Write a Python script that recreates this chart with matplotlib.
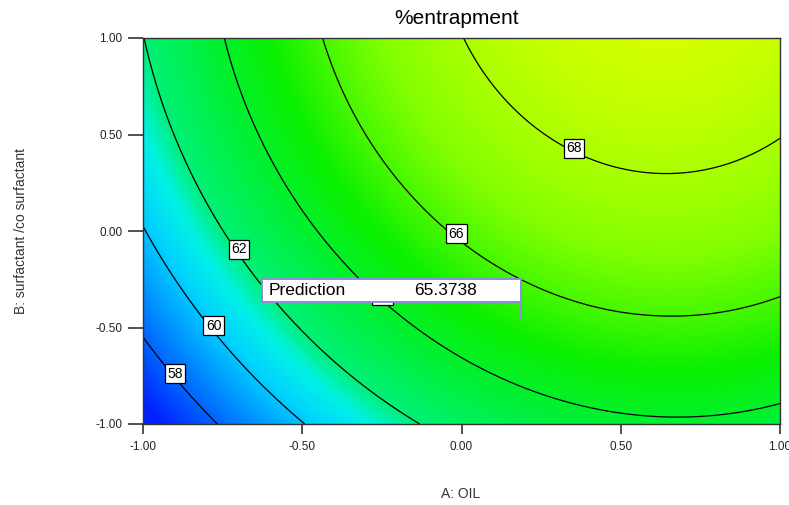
import numpy as np
import matplotlib
matplotlib.use("Agg")
import matplotlib.pyplot as plt
from matplotlib.colors import LinearSegmentedColormap, Normalize
from matplotlib.patches import Rectangle

plt.rcParams['font.family'] = ['Liberation Sans', 'DejaVu Sans']

# ---- data (coded factor units) ----
title = "%entrapment"
x_label = "A: OIL"
y_label = "B: surfactant /co surfactant"
ticks = [-1.0, -0.5, 0.0, 0.5, 1.0]
levels = [58, 60, 62, 64, 66, 68]

# points (A, B) -> level
pts_58 = [(-1.0, -0.57), (-0.90, -0.74), (-0.77, -1.0)]
pts_60 = [(-1.0, 0.0), (-0.78, -0.49), (-0.50, -1.0)]
pts_62 = [(-0.99, 1.0), (-0.908, 0.49), (-0.735, 0.0), (-0.70, -0.09), (-0.40, -0.66), (-0.13, -1.0)]
pts_64 = [(-0.745, 1.0), (-0.641, 0.49), (-0.465, 0.0), (-0.41, -0.10), (-0.286, -0.363),
          (0.122, -0.751), (0.65, -0.959), (1.0, -0.891)]
pts_66 = [(-0.44, 1.0), (-0.296, 0.49), (-0.129, 0.155), (0.0, 0.0), (0.185, -0.26),
          (0.634, -0.446), (1.0, -0.347)]
pts_68 = [(0.0, 1.0), (0.352, 0.43), (0.647, 0.285), (1.0, 0.487)]
prediction_point = (0.185, -0.456)
prediction_value = 65.3738

# contour label positions (A, B)
label_pos = {58: (-0.90, -0.74), 60: (-0.778, -0.492), 62: (-0.699, -0.095),
             64: (-0.248, -0.332), 66: (-0.016, -0.014), 68: (0.353, 0.428)}

# colour scale anchors (response value -> colour)
cmap_vals = [56.5, 58.5, 60.2, 61.2, 62.0, 63.5, 65.0, 67.0, 69.5, 70.5]
cmap_cols = [(0, 35, 255), (0, 125, 255), (0, 210, 255), (0, 242, 228), (0, 240, 118),
             (0, 240, 60), (10, 240, 0), (130, 255, 0), (228, 255, 0), (245, 255, 0)]

# ---- surface fitted through the traced contour points ----
A_list, B_list, Z_list = [], [], []
for lev, pts in zip(levels, [pts_58, pts_60, pts_62, pts_64, pts_66, pts_68]):
    for a, b in pts:
        A_list.append(a); B_list.append(b); Z_list.append(lev)
A_list.append(prediction_point[0]); B_list.append(prediction_point[1]); Z_list.append(prediction_value)
A_arr, B_arr, Z_arr = map(np.array, (A_list, B_list, Z_list))

def design(a, b):
    return np.stack([np.ones_like(a), a, b, a * a, a * b, b * b,
                     a ** 3, a * a * b, a * b * b, b ** 3], axis=-1)

coef, *_ = np.linalg.lstsq(design(A_arr, B_arr), Z_arr, rcond=None)

g = np.linspace(-1, 1, 301)
GA, GB = np.meshgrid(g, g)
GZ = design(GA, GB) @ coef

vmin, vmax = cmap_vals[0], cmap_vals[-1]
pos = [(v - vmin) / (vmax - vmin) for v in cmap_vals]
cmap = LinearSegmentedColormap.from_list(
    "de", list(zip(pos, [tuple(c / 255 for c in col) for col in cmap_cols])))

fig = plt.figure(figsize=(7.89, 5.05), dpi=100)
ax = fig.add_axes([143 / 789, 1 - 424 / 505, 637 / 789, 386 / 505])

ax.imshow(GZ, extent=(-1, 1, -1, 1), origin='lower', cmap=cmap,
          norm=Normalize(vmin, vmax), aspect='auto', interpolation='bilinear')
ax.contour(GA, GB, GZ, levels=levels, colors='black', linewidths=0.9)

for lev in levels:
    a, b = label_pos[lev]
    ax.text(a, b, str(lev), fontsize=10, ha='center', va='center', zorder=5,
            bbox=dict(boxstyle='square,pad=0.18', fc='white', ec='black', lw=0.9))

# prediction flag
bx0, bx1, by0, by1 = -0.625, 0.188, -0.368, -0.249
ax.add_patch(Rectangle((bx0, by0), bx1 - bx0, by1 - by0, fc='white',
                       ec='#8c8cdc', lw=1.4, zorder=6))
ax.plot([bx1, bx1], [by0, prediction_point[1]], color='#8c8cdc', lw=1.4, zorder=6)
ax.text(-0.606, (by0 + by1) / 2, "Prediction", fontsize=12.5, va='center', ha='left', zorder=7)
ax.text(-0.148, (by0 + by1) / 2, f"{prediction_value:.4f}", fontsize=12.5, va='center', ha='left', zorder=7)

ax.set_xlim(-1, 1)
ax.set_ylim(-1, 1)
ax.set_xticks(ticks)
ax.set_yticks(ticks)
ax.set_xticklabels([f"{t:.2f}" for t in ticks])
ax.set_yticklabels([f"{t:.2f}" for t in ticks])
ax.tick_params(axis='x', length=7, width=1.1, pad=5, labelsize=8.5, colors='#222222')
ax.tick_params(axis='y', length=11, width=1.1, pad=4, labelsize=8.5, colors='#222222')
for s in ax.spines.values():
    s.set_color('#333333')
    s.set_linewidth(1.0)

fig.text(457 / 789, 1 - 19 / 505, title, fontsize=15, ha='center', va='center')
fig.text(461 / 789, 1 - 494 / 505, x_label, fontsize=10, ha='center', va='center', color='#333333')
fig.text(21 / 789, 1 - 231 / 505, y_label, fontsize=10, ha='center', va='center',
         rotation=90, color='#333333')

fig.savefig("out.png", dpi=100)
